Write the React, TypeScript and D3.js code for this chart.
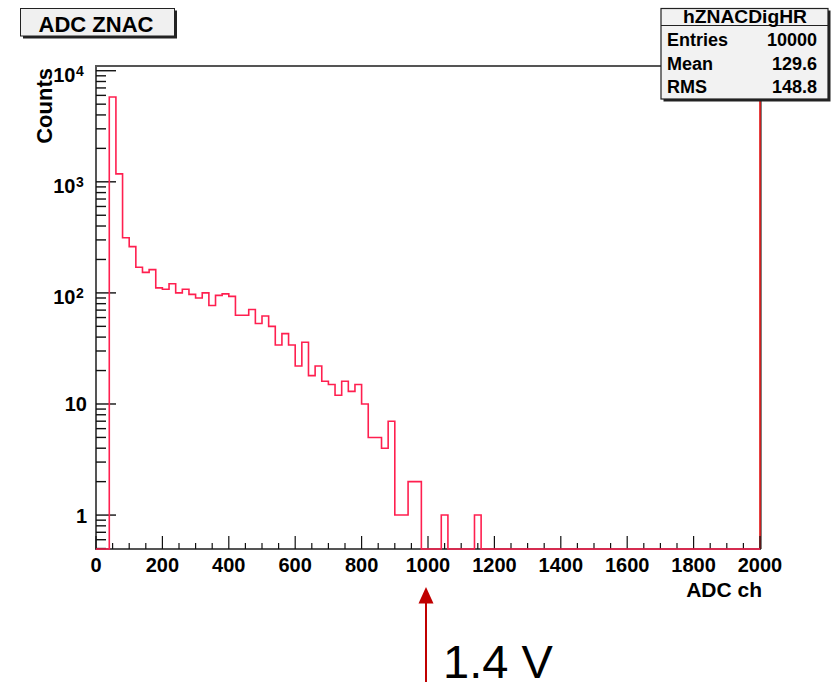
import React from "react";
import * as d3 from "d3";

// ---- Data ----
const binWidth = 20;
const xMin = 0;
const xMax = 2000;
// counts per 20-ch bin, starting at 0
const counts: number[] = [
  0, 0, 5800, 1180, 314, 261, 170, 153, 162, 111,
  108, 121, 100, 108, 97, 90, 100, 77, 95, 98,
  93, 63, 63, 71, 53, 62, 50, 34, 43, 34,
  22, 36, 18, 22, 16, 15, 12, 16, 13, 15,
  10, 5, 5, 4, 7, 1, 1, 2, 2, 0,
  0, 0, 1, 0, 0, 0, 0, 1, 0, 0,
  0, 0, 0, 0, 0, 0, 0, 0, 0, 0,
  0, 0, 0, 0, 0, 0, 0, 0, 0, 0,
  0, 0, 0, 0, 0, 0, 0, 0, 0, 0,
  0, 0, 0, 0, 0, 0, 0, 0, 0, 0,
];
const xTickValues = [0, 200, 400, 600, 800, 1000, 1200, 1400, 1600, 1800, 2000];
const yMajorTicks = [1, 10, 100, 1000, 10000];
const yTickLabels: { base: string; exp: string }[] = [
  { base: "1", exp: "" },
  { base: "10", exp: "" },
  { base: "10", exp: "2" },
  { base: "10", exp: "3" },
  { base: "10", exp: "4" },
];
const title = "ADC ZNAC";
const statsName = "hZNACDigHR";
const statsRows: [string, string][] = [
  ["Entries", "10000"],
  ["Mean", "129.6"],
  ["RMS", "148.8"],
];
const xAxisTitle = "ADC ch";
const yAxisTitle = "Counts";
const arrowLabel = "1.4 V";
const arrowValue = 1000;

const FONT = "'Liberation Sans', Arial, Helvetica, sans-serif";

export default function App() {
  const W = 832, H = 682;
  const left = 96, right = 760, top = 66, bottom = 549;
  const x = d3.scaleLinear().domain([xMin, xMax]).range([left, right]);
  const y = d3.scaleLog().domain([0.495, 11030]).range([bottom, top]);

  // histogram path
  let path = `M${x(xMin)},${bottom}`;
  counts.forEach((c, i) => {
    const yv = c > 0 ? y(c) : bottom;
    path += `V${yv}H${x(xMin + (i + 1) * binWidth)}`;
  });
  path += `V${bottom}`;

  // y minor ticks
  const yMinor: number[] = [];
  for (let e = -1; e <= 3; e++) {
    for (let m = 2; m <= 9; m++) {
      const v = m * Math.pow(10, e);
      if (v >= 0.495 && v <= 11030) yMinor.push(v);
    }
  }
  const xMinor = d3.range(xMin, xMax + 1, 50).filter((v) => v % 200 !== 0);

  const arrowX = x(arrowValue) - 2;

  return (
    <svg width={W} height={H} style={{ position: "absolute", left: 0, top: 0, background: "#fff" }} fontFamily={FONT}>
      {/* frame */}
      <line x1={left} y1={top} x2={right} y2={top} stroke="#555" strokeWidth={2} />
      <line x1={left} y1={top - 1} x2={left} y2={bottom + 1} stroke="#555" strokeWidth={2} />
      <line x1={left} y1={bottom} x2={right + 1} y2={bottom} stroke="#555" strokeWidth={2} />
      <line x1={right + 1} y1={top} x2={right + 1} y2={bottom} stroke="#555" strokeWidth={1.5} />
      <line x1={right} y1={top} x2={right} y2={bottom} stroke="#e00000" strokeWidth={1.5} />

      {/* y ticks */}
      {yMajorTicks.map((v) => (
        <line key={"ym" + v} x1={left} x2={left + 20} y1={y(v)} y2={y(v)} stroke="#111" strokeWidth={1.4} />
      ))}
      {yMinor.map((v) => (
        <line key={"yn" + v} x1={left} x2={left + 10} y1={y(v)} y2={y(v)} stroke="#111" strokeWidth={1.4} />
      ))}
      {/* x ticks */}
      {xTickValues.map((v) => (
        <line key={"xm" + v} x1={x(v)} x2={x(v)} y1={bottom} y2={bottom - 13} stroke="#111" strokeWidth={1.2} />
      ))}
      {xMinor.map((v) => (
        <line key={"xn" + v} x1={x(v)} x2={x(v)} y1={bottom} y2={bottom - 6} stroke="#111" strokeWidth={1.2} />
      ))}

      {/* histogram */}
      <path d={path} fill="none" stroke="#ff1f4f" strokeWidth={1.6} />

      {/* y tick labels */}
      {yMajorTicks.map((v, i) => {
        const lab = yTickLabels[i];
        if (lab.exp) {
          return (
            <g key={"yl" + v}>
              <text x={75.5} y={y(v) + 11} textAnchor="end" fontSize={20} fontWeight="bold" fill="#000">{lab.base}</text>
              <text x={76} y={y(v) + 5.5} textAnchor="start" fontSize={14} fontWeight="bold" fill="#000">{lab.exp}</text>
            </g>
          );
        }
        return (
          <text key={"yl" + v} x={87} y={y(v) + 7.5} textAnchor="end" fontSize={20} fontWeight="bold" fill="#000">{lab.base}</text>
        );
      })}

      {/* x tick labels */}
      {xTickValues.map((v) => (
        <text key={"xl" + v} x={x(v)} y={571.5} textAnchor="middle" fontSize={20} fontWeight="bold" fill="#000">{v}</text>
      ))}

      {/* axis titles */}
      <text x={762} y={597} textAnchor="end" fontSize={21} fontWeight="bold" fill="#000">{xAxisTitle}</text>
      <text transform="translate(51.5,68) rotate(-90)" textAnchor="end" fontSize={22} fontWeight="bold" fill="#000">{yAxisTitle}</text>

      {/* title box */}
      <rect x={23} y={10.5} width={154} height={28} fill="#222" />
      <rect x={20.5} y={8.5} width={154} height={27.5} fill="#f0f0f0" stroke="#222" strokeWidth={1} />
      <text x={96} y={31.5} textAnchor="middle" fontSize={22} fontWeight="bold" fill="#000">{title}</text>

      {/* stats box */}
      <rect x={663.5} y={10.5} width={167} height={91} fill="#222" />
      <rect x={661} y={8.5} width={167} height={90.5} fill="#f2f2f2" stroke="#222" strokeWidth={1.2} />
      <line x1={661} x2={828} y1={25.5} y2={25.5} stroke="#222" strokeWidth={1.2} />
      <text x={745} y={23} textAnchor="middle" fontSize={18} fontWeight="bold" fill="#000" textLength={124} lengthAdjust="spacingAndGlyphs">{statsName}</text>
      {statsRows.map(([k, v], i) => (
        <g key={k}>
          <text x={667} y={46 + i * 23.7} fontSize={18} fontWeight="bold" fill="#000">{k}</text>
          <text x={817} y={46 + i * 23.7} textAnchor="end" fontSize={18} fontWeight="bold" fill="#000">{v}</text>
        </g>
      ))}

      {/* arrow annotation */}
      <line x1={arrowX} x2={arrowX} y1={600} y2={H} stroke="#c00000" strokeWidth={2} />
      <path d={`M${arrowX},587 L${arrowX - 7.5},603.5 L${arrowX + 7.5},603.5 Z`} fill="#c00000" />
      <text x={443} y={678} fontSize={47} fill="#000">{arrowLabel}</text>
    </svg>
  );
}
